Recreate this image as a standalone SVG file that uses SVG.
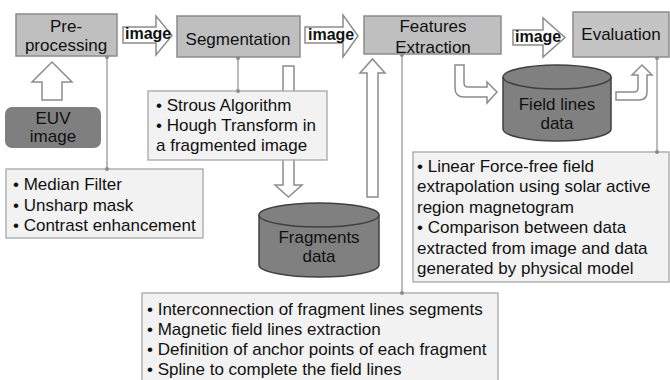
<svg xmlns="http://www.w3.org/2000/svg" width="670" height="380" viewBox="0 0 670 380">
<style>
text{font-family:"Liberation Sans",Arial,sans-serif;fill:#111}
.proc{fill:#bfbfbf;stroke:#8c8c8c;stroke-width:1.5}
.note{fill:#f2f2f2;stroke:#a6a6a6;stroke-width:1.3}
.hollow{fill:#fff;stroke:#8c8c8c;stroke-width:1.5;stroke-linejoin:miter}
.cyl{fill:#808080;stroke:#404040;stroke-width:1.5}
.lbl{font-size:17px;text-anchor:middle}
.bul{font-size:17px}
.img{font-size:16px;font-weight:bold}
.con{stroke:#8c8c8c;stroke-width:1.2;fill:none}
.dot{fill:#8c8c8c}
</style>

<g id="arrows">
<polygon class="hollow" points="123,27 156,27 156,16 172,35.5 156,55 156,43 123,43"/>
<text class="img" x="125" y="39">image</text>
<polygon class="hollow" points="305,27 343,27 343,15 358,36 343,57 343,43 305,43"/>
<text class="img" x="308" y="40">image</text>
<polygon class="hollow" points="513,30 543,30 543,18 565,37.5 543,57 543,45 513,45"/>
<text class="img" x="515" y="42">image</text>
<polygon class="hollow" points="42,100 42,82 32,82 52,62 72,82 62,82 62,100"/>
<polygon class="hollow" points="283,66 294,66 294,185 302,185 288.5,197 275,185 283,185"/>
<polygon class="hollow" points="367,197 367,73 360,73 372.5,59 385,73 378,73 378,197"/>
<path class="hollow" d="M455,65 L455,88 Q455,97 464,97 L487,97 L487,103 L497,92 L487,82 L487,87 L468,87 Q464,87 464,83 L464,65 Z"/>
<path class="hollow" d="M616,92 L634,92 Q638,92 638,88 L638,75 L632,75 L642,65 L652,75 L647,75 L647,92 Q647,100 639,100 L616,100 Z"/>
</g>

<g id="preprocessing">
<rect class="proc" x="16" y="14" width="101" height="42"/>
<text class="lbl" x="66" y="32">Pre-</text>
<text class="lbl" x="66" y="51">processing</text>
</g>

<g id="segmentation">
<rect class="proc" x="177" y="16" width="123" height="41"/>
<text class="lbl" x="238" y="45">Segmentation</text>
</g>

<g id="features">
<rect class="proc" x="364" y="16" width="137" height="38"/>
<text class="lbl" x="433" y="32">Features</text>
<text class="lbl" x="433" y="53">Extraction</text>
</g>

<g id="evaluation">
<rect class="proc" x="573" y="12" width="96" height="45" style="fill:#c4c4c4"/>
<text class="lbl" x="621" y="40">Evaluation</text>
</g>

<g id="euv">
<rect x="5" y="107" width="96" height="41" rx="7" fill="#7f7f7f"/>
<text class="lbl" x="53" y="124">EUV</text>
<text class="lbl" x="53" y="142">image</text>
</g>

<g id="fieldlines">
<path class="cyl" d="M503,77 L503,129 A54,12 0 0 0 611,129 L611,77"/>
<ellipse class="cyl" cx="557" cy="77" rx="54" ry="12"/>
<text class="lbl" x="557" y="110">Field lines</text>
<text class="lbl" x="557" y="129">data</text>
</g>

<g id="fragments">
<path class="cyl" d="M259,215 L259,265 A60,12 0 0 0 379,265 L379,215"/>
<ellipse class="cyl" cx="319" cy="215" rx="60" ry="12"/>
<text class="lbl" x="319" y="243">Fragments</text>
<text class="lbl" x="319" y="262">data</text>
</g>

<g id="note-seg">
<rect class="note" x="148" y="91" width="179" height="69"/>
<text class="bul" x="156" y="111">• Strous Algorithm</text>
<text class="bul" x="156" y="131">• Hough Transform in</text>
<text class="bul" x="156" y="151">a fragmented image</text>
</g>

<g id="note-pre">
<rect class="note" x="6" y="169" width="197" height="69"/>
<text class="bul" x="13" y="190">• Median Filter</text>
<text class="bul" x="13" y="211">• Unsharp mask</text>
<text class="bul" x="13" y="231">• Contrast enhancement</text>
</g>

<g id="note-eval">
<rect class="note" x="413" y="152" width="256" height="130"/>
<text class="bul" x="417" y="172">• Linear Force-free field</text>
<text class="bul" x="417" y="192">extrapolation using solar active</text>
<text class="bul" x="417" y="213">region magnetogram</text>
<text class="bul" x="417" y="233">• Comparison between data</text>
<text class="bul" x="417" y="254">extracted from image and data</text>
<text class="bul" x="417" y="274">generated by physical model</text>
</g>

<g id="note-feat">
<rect class="note" x="142" y="293" width="356" height="90"/>
<text class="bul" x="147" y="315">• Interconnection of fragment lines segments</text>
<text class="bul" x="147" y="335">• Magnetic field lines extraction</text>
<text class="bul" x="147" y="355">• Definition of anchor points of each fragment</text>
<text class="bul" x="147" y="375">• Spline to complete the field lines</text>
</g>

<g id="connectors">
<line class="con" x1="107" y1="56" x2="107" y2="169"/>
<circle class="dot" cx="107" cy="57" r="2"/><circle class="dot" cx="107" cy="169" r="2"/>
<line class="con" x1="238" y1="57" x2="238" y2="91"/>
<circle class="dot" cx="238" cy="58" r="2"/><circle class="dot" cx="238" cy="91" r="2"/>
<line class="con" x1="402" y1="54" x2="402" y2="293"/>
<circle class="dot" cx="402" cy="55" r="2"/><circle class="dot" cx="402" cy="293" r="2"/>
<line class="con" x1="657" y1="57" x2="657" y2="152"/>
<circle class="dot" cx="657" cy="58" r="2"/><circle class="dot" cx="657" cy="152" r="2"/>
</g>
</svg>
